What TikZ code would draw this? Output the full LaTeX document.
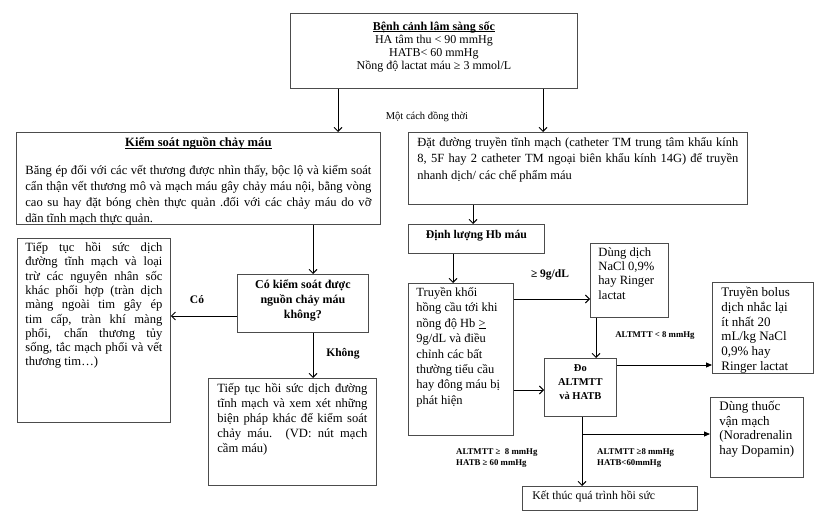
\documentclass[tikz,border=0pt]{standalone}
\usepackage{fontspec}
\setmainfont{Liberation Serif}
\usetikzlibrary{arrows.meta}
\newcommand\bxt[6]{\parbox[c][#2pt][t]{#1pt}{\vspace*{#4pt}\hspace*{#3pt}\parbox[t]{\dimexpr#1pt-#3pt-#3pt\relax}{#5#6}}}
\newcommand\ulx[1]{{\setbox0\hbox{#1}\rlap{\rule[-1.6pt]{\wd0}{0.6pt}}\box0}}
\tikzset{
  box/.style={draw=black!70, line width=0.8pt, inner sep=0pt, anchor=north west},
  arr/.style={draw=black, line width=0.9pt, -{Straight Barb[length=4pt,width=8pt,line width=0.9pt]}},
  farr/.style={draw=black, line width=0.9pt, -{Triangle[length=6pt,width=5pt]}},
  lbl/.style={font=\bfseries\fontsize{11.5}{13}\selectfont, inner sep=0pt},
  slbl/.style={font=\bfseries\fontsize{8.8}{10.5}\selectfont, inner sep=0pt, align=left},
}
\begin{document}
\begin{tikzpicture}[x=1pt,y=-1pt]
\useasboundingbox (0,0) rectangle (819,516);
\fill[white] (0,0) rectangle (819,516);

% boxes
\node[box] (top) at (290,13) {\bxt{287}{75}{4}{8}{\centering\fontsize{12}{13.2}\selectfont}{\textbf{\ulx{Bệnh cảnh lâm sàng sốc}}\\HA tâm thu < 90 mmHg\\HATB< 60 mmHg\\Nồng độ lactat máu ≥ 3 mmol/L}};

\node[box] (kiem) at (16,132) {\bxt{364}{92}{9}{5}{\fontsize{12.6}{16}\selectfont}{{\centering\textbf{\ulx{Kiểm soát nguồn chảy máu}}\par}\vspace{12pt}Băng ép đối với các vết thương được nhìn thấy, bộc lộ và kiểm soát\linebreak cẩn thận vết thương mô và mạch máu gây chảy máu nội, bằng vòng\linebreak cao su hay đặt bóng chèn thực quản .đối với các chảy máu do vỡ\linebreak dãn tĩnh mạch thực quản.}};

\node[box] (dat) at (408,132) {\bxt{339}{72}{9}{5}{\fontsize{12.5}{16.3}\selectfont}{Đặt đường truyền tĩnh mạch (catheter TM trung tâm khẩu kính\linebreak 8, 5F hay 2 catheter TM ngoại biên khẩu kính 14G) để truyền\linebreak nhanh dịch/ các chế phẩm máu}};

\node[box] (dinh) at (408,224) {\bxt{136}{29}{2}{6}{\centering\bfseries\fontsize{11.8}{14}\selectfont}{Định lượng Hb máu}};

\node[box] (truyen) at (408,283) {\bxt{105}{152}{8}{4}{\raggedright\fontsize{12.5}{15.4}\selectfont}{Truyền khối\\hồng cầu tới khi\\nồng độ Hb \underline{>}\\9g/dL và điều\\chỉnh các bất\\thường tiểu cầu\\hay đông máu bị\\phát hiện}};

\node[box] (dung) at (590,243) {\bxt{78}{74}{8}{4}{\raggedright\fontsize{12.6}{14.4}\selectfont}{Dùng dịch\\NaCl 0,9\%\\hay Ringer\\lactat}};

\node[box] (do) at (544,358) {\bxt{72}{58}{2}{6}{\centering\bfseries\fontsize{10.5}{14.2}\selectfont}{Đo\\ALTMTT\\và HATB}};

\node[box] (bolus) at (712,282) {\bxt{101}{91}{9}{5}{\raggedright\fontsize{13}{14.7}\selectfont}{Truyền bolus\\dịch nhắc lại\\ít nhất 20\\mL/kg NaCl\\0,9\% hay\\Ringer lactat}};

\node[box] (thuoc) at (710,397) {\bxt{93}{80}{9}{4}{\raggedright\fontsize{13}{14.5}\selectfont}{Dùng thuốc\\vận mạch\\(Noradrenalin\\hay Dopamin)}};

\node[box] (ket) at (522,486) {\bxt{175}{24}{10}{5}{\raggedright\fontsize{11.8}{14}\selectfont}{Kết thúc quá trình hồi sức}};

\node[box] (tt1) at (17,238) {\bxt{153}{184}{8}{4}{\fontsize{12.6}{14.3}\selectfont}{Tiếp tục hồi sức dịch\linebreak đường tĩnh mạch và loại\linebreak trừ các nguyên nhân sốc\linebreak khác phối hợp (tràn dịch\linebreak màng ngoài tim gây ép\linebreak tim cấp, tràn khí màng\linebreak phổi, chấn thương tủy\linebreak sống, tắc mạch phổi và vết\linebreak thương tim…)}};

\node[box] (co) at (237,274) {\bxt{131}{58}{8}{5}{\centering\bfseries\fontsize{12}{15}\selectfont}{Có kiểm soát được\\nguồn chảy máu\\không?}};

\node[box] (tt2) at (208,378) {\bxt{168}{107}{9}{5}{\fontsize{12.6}{15}\selectfont}{Tiếp tục hồi sức dịch đường\linebreak tĩnh mạch và xem xét những\linebreak biện pháp khác để kiểm soát\linebreak chảy máu. (VD: nút mạch\linebreak cầm máu)}};

% connectors
\draw[arr] (top.south -| 338,0) -- (kiem.north -| 338,0);
\draw[arr] (top.south -| 543,0) -- (dat.north -| 543,0);
\node[inner sep=0pt, font=\fontsize{10.5}{13}\selectfont] (dongthoi) at (427,117) {Một cách đồng thời};

\draw[arr] (kiem.south -| 313,0) -- (co.north -| 313,0);
\draw[arr] (co.west |- 0,316) -- (tt1.east |- 0,316);
\node[lbl] (lco) at (197,300) {Có};
\draw[arr] (co.south -| 313,0) -- (tt2.north -| 313,0);
\node[lbl] (lkhong) at (343,354) {Không};

\draw[arr] (dat.south -| 473,0) -- (dinh.north -| 473,0);
\draw[arr] (dinh.south -| 453,0) -- (truyen.north -| 453,0);
\draw[arr] (truyen.east |- 0,299) -- (dung.west |- 0,299);
\node[lbl] (l9) at (550,275) {≥ 9g/dL};
\draw[arr] (truyen.east |- 0,390) -- (do.west |- 0,390);
\draw[arr] (dung.south -| 596,0) -- (do.north -| 596,0);
\node[slbl] (l8) at (655,336) {ALTMTT < 8 mmHg};
\draw[farr] (do.east |- 0,365) -- (bolus.west |- 0,365);
\draw[arr] (do.south -| 582,0) -- (ket.north -| 582,0);
\coordinate (br) at (582,434);
\draw[farr] (br) -- (thuoc.west |- br);
\node[slbl, anchor=west] (lok) at (456,458) {ALTMTT ≥\ \ 8 mmHg\\HATB ≥ 60 mmHg};
\node[slbl, anchor=west] (lva) at (597,458) {ALTMTT ≥8 mmHg\\HATB<60mmHg};
\end{tikzpicture}
\end{document}
